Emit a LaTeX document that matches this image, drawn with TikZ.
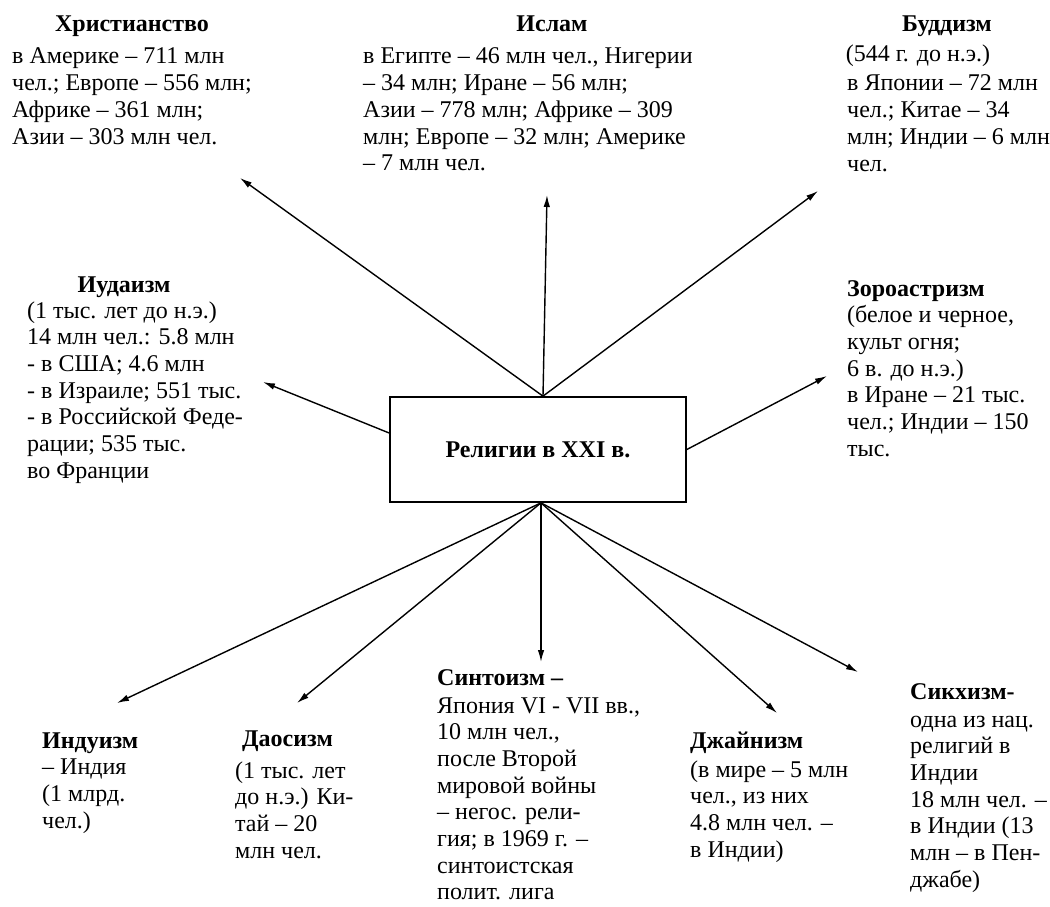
\documentclass[tikz,border=0pt]{standalone}
\usepackage{fontspec}
\setmainfont{Liberation Serif}
\usetikzlibrary{arrows.meta}
\newcommand{\rlines}[1]{\begin{tabular}[t]{@{}l@{}}#1\end{tabular}}
\begin{document}
\begin{tikzpicture}[x=1pt,y=-1pt,
  txt/.style={inner sep=0pt,anchor=base west,font=\fontsize{24}{26.7}\selectfont},
  ttl/.style={inner sep=0pt,anchor=base,font=\fontsize{24}{26.7}\selectfont\bfseries},
  arr/.style={line width=1.4pt,-{Latex[length=12pt,width=6.5pt]}},
  hub/.style={draw,line width=1.7pt,minimum width=296pt,minimum height=105pt,inner sep=0pt,font=\fontsize{24}{26.7}\selectfont\bfseries}]
\useasboundingbox (0,0) rectangle (1050,907);
% central box
\node[hub] (main) at (538,449.5) {Религии в XXI в.};
\coordinate (top) at ([xshift=5pt]main.north);
\coordinate (bot) at ([xshift=3pt]main.south);
\coordinate (lft) at ([yshift=16.5pt]main.west);
\coordinate (rgt) at (main.east);
% Christianity
\node[ttl] (chrT) at (132,32) {Христианство};
\node[txt] (chrB) at (12,64) {\rlines{в Америке – 711 млн\\ чел.; Европе – 556 млн;\\ Африке – 361 млн;\\ Азии – 303 млн чел.}};
% Islam
\node[ttl] (islT) at (552,32) {Ислам};
\node[txt] (islB) at (363,64) {\rlines{в Египте – 46 млн чел., Нигерии\\ – 34 млн; Иране – 56 млн;\\ Азии – 778 млн; Африке – 309\\ млн; Европе – 32 млн; Америке\\ – 7 млн чел.}};
% Buddhism
\node[ttl] (budT) at (947,32) {Буддизм};
\node[txt,anchor=base] (budS) at (918,62) {(544 г. до н.э.)};
\node[txt] (budB) at (847,91) {\rlines{в Японии – 72 млн\\ чел.; Китае – 34\\ млн; Индии – 6 млн\\ чел.}};
% Judaism
\node[ttl] (judT) at (124,292) {Иудаизм};
\node[txt] (judB) at (27,318) {\rlines{(1 тыс. лет до н.э.)\\ 14 млн чел.: 5.8 млн\\ - в США; 4.6 млн\\ - в Израиле; 551 тыс.\\ - в Российской Феде-\\ рации; 535 тыс.\\ во Франции}};
% Zoroastrianism
\node[txt] (zor) at (847,296) {\rlines{\textbf{Зороастризм}\\ (белое и черное,\\ культ огня;\\ 6 в. до н.э.)\\ в Иране – 21 тыс.\\ чел.; Индии – 150\\ тыс.}};
% Hinduism
\node[txt] (hin) at (42,748) {\rlines{\textbf{Индуизм}\\ – Индия\\ (1 млрд.\\ чел.)}};
% Daoism
\node[txt] (daoT) at (242,746) {\textbf{Даосизм}};
\node[txt] (daoB) at (235,778) {\rlines{(1 тыс. лет\\ до н.э.) Ки-\\ тай – 20\\ млн чел.}};
% Shinto
\node[txt] (shi) at (437,685) {\rlines{\textbf{Синтоизм –}\\[1.3pt] Япония VI - VII вв.,\\ 10 млн чел.,\\ после Второй\\ мировой войны\\ – негос. рели-\\ гия; в 1969 г. –\\ синтоистская\\ полит. лига}};
% Jainism
\node[txt] (jai) at (690,748) {\rlines{\textbf{Джайнизм}\\[2.3pt] (в мире – 5 млн\\ чел., из них\\ 4.8 млн чел. –\\ в Индии)}};
% Sikhism
\node[txt] (sik) at (910,699) {\rlines{\textbf{Сикхизм-}\\[1.3pt] одна из нац.\\ религий в\\ Индии\\ 18 млн чел. –\\ в Индии (13\\ млн – в Пен-\\ джабе)}};
% arrow tips
\coordinate (tChr) at (240,178);
\coordinate (tIsl) at (547,195);
\coordinate (tBud) at (818,191);
\coordinate (tJud) at (263,382);
\coordinate (tZor) at (827,376);
\coordinate (tHin) at (117,703);
\coordinate (tDao) at (297,703);
\coordinate (tShi) at (541,662);
\coordinate (tJai) at (777,713);
\coordinate (tSik) at (858,672);
\draw[arr] (top) -- (tChr);
\draw[arr] (top) -- (tIsl);
\draw[arr] (top) -- (tBud);
\draw[arr] (lft) -- (tJud);
\draw[arr] (rgt) -- (tZor);
\draw[arr] (bot) -- (tHin);
\draw[arr] (bot) -- (tDao);
\draw[arr] (bot) -- (tShi);
\draw[arr] (bot) -- (tJai);
\draw[arr] (bot) -- (tSik);
\end{tikzpicture}
\end{document}
